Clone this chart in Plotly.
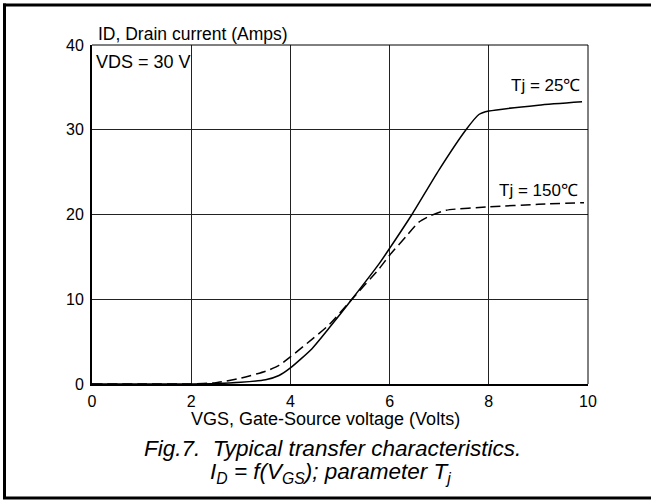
import plotly.graph_objects as go

# Data
vgs_25 = [0, 1, 2, 2.5, 3.0, 3.5, 3.77, 4.0, 4.44, 4.78, 5.24, 5.79, 6.0, 6.45, 7.0, 7.54, 7.8, 8.0, 9.0, 9.88]
id_25 = [0, 0, 0, 0.05, 0.2, 0.5, 1.0, 1.9, 4.2, 6.6, 10.0, 14.2, 16.0, 20.0, 25.3, 30.0, 31.8, 32.2, 32.9, 33.3]

vgs_150 = [0, 1, 2, 2.5, 3.0, 3.5, 3.77, 4.0, 4.44, 4.78, 5.24, 5.79, 6.0, 6.33, 6.59, 6.8, 7.14, 8.0, 9.0, 9.92]
id_150 = [0, 0, 0, 0.15, 0.7, 1.5, 2.2, 3.2, 5.3, 7.0, 10.0, 13.6, 15.2, 17.4, 19.1, 19.8, 20.5, 20.9, 21.2, 21.4]

x_ticks = [0, 2, 4, 6, 8, 10]
y_ticks = [0, 10, 20, 30, 40]

FONT = "Liberation Sans, Arial, sans-serif"

fig = go.Figure()
fig.add_trace(go.Scatter(x=vgs_25, y=id_25, mode="lines",
                         line=dict(color="black", width=1.5, shape="spline", smoothing=0.6),
                         showlegend=False, hoverinfo="skip"))
fig.add_trace(go.Scatter(x=vgs_150, y=id_150, mode="lines",
                         line=dict(color="black", width=1.5, dash="10px,5px", shape="spline", smoothing=0.6),
                         showlegend=False, hoverinfo="skip"))

fig.update_layout(
    width=651, height=500, autosize=False,
    margin=dict(l=92, r=63, t=45, b=116),
    paper_bgcolor="white", plot_bgcolor="white",
    font=dict(family=FONT, color="black", size=16),
    xaxis=dict(range=[0, 10], tickvals=x_ticks, showgrid=True, gridcolor="#222", gridwidth=1,
               zeroline=False, showline=True, linecolor="black", linewidth=2, ticks="",
               ticklabelstandoff=2, tickfont=dict(size=16, family=FONT), fixedrange=True),
    yaxis=dict(range=[0, 40], tickvals=y_ticks, showgrid=True, gridcolor="#222", gridwidth=1,
               zeroline=False, showline=True, linecolor="black", linewidth=2, ticks="",
               ticklabelstandoff=3, tickfont=dict(size=16, family=FONT), fixedrange=True),
)

# top & right plot border (thin)
fig.add_shape(type="line", xref="paper", yref="paper", x0=0, x1=1, y0=1, y1=1,
              line=dict(color="black", width=1))
fig.add_shape(type="line", xref="paper", yref="paper", x0=1, x1=1, y0=0, y1=1,
              line=dict(color="black", width=1))

# outer frame (top, left, bottom)
W, H = 496.0, 339.0
def px(xp):
    return (xp - 92) / W
def py(yp):
    return (384 - yp) / H

fig.add_shape(type="line", xref="paper", yref="paper", x0=px(3), x1=px(660), y0=py(5), y1=py(5),
              line=dict(color="black", width=3))
fig.add_shape(type="line", xref="paper", yref="paper", x0=px(4.5), x1=px(4.5), y0=py(3.5), y1=py(499),
              line=dict(color="black", width=3))
fig.add_shape(type="line", xref="paper", yref="paper", x0=px(3), x1=px(660), y0=py(498), y1=py(498),
              line=dict(color="black", width=3))

ann = []
ann.append(dict(text="ID, Drain current (Amps)", xref="paper", yref="paper", x=px(96), y=py(34),
                xanchor="left", yanchor="middle", showarrow=False, font=dict(size=17.5, family=FONT)))
ann.append(dict(text="VDS = 30 V", xref="paper", yref="paper", x=px(94), y=py(62),
                xanchor="left", yanchor="middle", showarrow=False, font=dict(size=18, family=FONT)))
ann.append(dict(text="Tj = 25\u2103", xref="x", yref="paper", x=9.88, y=py(85),
                xanchor="right", yanchor="middle", showarrow=False, font=dict(size=17, family=FONT)))
ann.append(dict(text="Tj = 150\u2103", xref="x", yref="paper", x=9.84, y=py(190),
                xanchor="right", yanchor="middle", showarrow=False, font=dict(size=17, family=FONT)))
ann.append(dict(text="VGS, Gate-Source voltage (Volts)", xref="paper", yref="paper", x=px(325), y=py(419),
                xanchor="center", yanchor="middle", showarrow=False, font=dict(size=18, family=FONT)))
ann.append(dict(text="<i>Fig.7.\u00a0 Typical transfer characteristics.</i>", xref="paper", yref="paper",
                x=px(332), y=py(448), xanchor="center", yanchor="middle", showarrow=False,
                font=dict(size=22.5, family=FONT)))
ann.append(dict(text="<i>I<sub>D</sub> = f(V<sub>GS</sub>); parameter T<sub>j</sub></i>", xref="paper", yref="paper",
                x=px(330), y=py(473), xanchor="center", yanchor="middle", showarrow=False,
                font=dict(size=22.5, family=FONT)))
fig.update_layout(annotations=ann)

fig.write_html("out.html", config={"displayModeBar": False},
               post_script="document.body.style.margin='0px';")
